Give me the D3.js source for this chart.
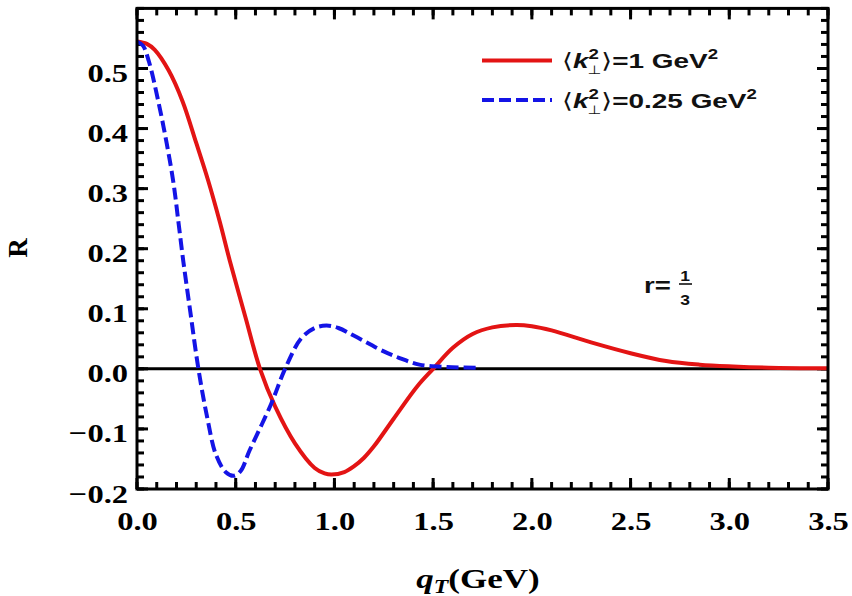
<!DOCTYPE html>
<html>
<head>
<meta charset="utf-8">
<script src="https://cdn.jsdelivr.net/npm/d3@7/dist/d3.min.js"></script>
<style>
  html, body { margin: 0; padding: 0; background: #fff; }
  svg { display: block; }
</style>
</head>
<body>
<svg id="chart" width="852" height="596"></svg>
<script>
// R(q_T) for two widths of the transverse-momentum distribution
const qRed = [0.00, 0.05, 0.09, 0.16, 0.23, 0.30, 0.36, 0.42, 0.47, 0.55, 0.623, 0.70, 0.80, 0.90, 0.95, 0.985, 1.05, 1.10, 1.15, 1.20, 1.30, 1.42, 1.50, 1.60, 1.70, 1.80, 1.92, 2.00, 2.10, 2.30, 2.50, 2.68, 2.85, 3.02, 3.20, 3.50];
const rRed = [0.545, 0.541, 0.531, 0.497, 0.446, 0.376, 0.314, 0.244, 0.180, 0.085, 0.000, -0.063, -0.124, -0.165, -0.174, -0.176, -0.172, -0.162, -0.148, -0.129, -0.083, -0.029, 0.000, 0.035, 0.058, 0.069, 0.073, 0.071, 0.064, 0.044, 0.026, 0.013, 0.007, 0.004, 0.002, 0.001];

const qBlue = [0.00, 0.03, 0.06, 0.11, 0.15, 0.185, 0.21, 0.235, 0.27, 0.311, 0.355, 0.40, 0.45, 0.49, 0.525, 0.57, 0.68, 0.75, 0.83, 0.90, 0.96, 1.02, 1.10, 1.25, 1.33, 1.43, 1.57, 1.74];
const rBlue = [0.545, 0.538, 0.512, 0.442, 0.376, 0.309, 0.244, 0.178, 0.095, 0.000, -0.080, -0.143, -0.172, -0.178, -0.170, -0.136, -0.058, 0.000, 0.050, 0.068, 0.072, 0.068, 0.055, 0.029, 0.018, 0.007, 0.003, 0.002];

const xTicks = [0.0, 0.5, 1.0, 1.5, 2.0, 2.5, 3.0, 3.5];
const yTicks = [-0.2, -0.1, 0.0, 0.1, 0.2, 0.3, 0.4, 0.5];
const xMinor = d3.range(0, 3.5001, 0.1);
const yMinor = d3.range(-0.2, 0.6001, 0.02);

const legendLabels = ["1", "0.25"];

const RED = "#e31414";
const BLUE = "#1414e6";
const SX = 1.25;   // horizontal stretch of the serif lettering
const SXL = 1.33;  // horizontal stretch of the legend lettering

const svg = d3.select("#chart");
const L = 137, R = 828, T = 8.4, B = 489;
const x = d3.scaleLinear().domain([0, 3.5]).range([L, R]);
const y = d3.scaleLinear().domain([-0.2, 0.6]).range([B, T]);

const fmt = v => (v < 0 ? "\u2212" : "") + Math.abs(v).toFixed(1);

// inward ticks on all four sides
const tickG = svg.append("g").attr("stroke", "#000").attr("stroke-width", 3);
function xTickMarks(values, len) {
  tickG.selectAll(null).data(values).join("line")
    .attr("x1", d => x(d)).attr("x2", d => x(d)).attr("y1", B).attr("y2", B - len);
  tickG.selectAll(null).data(values).join("line")
    .attr("x1", d => x(d)).attr("x2", d => x(d)).attr("y1", T).attr("y2", T + len);
}
function yTickMarks(values, len) {
  tickG.selectAll(null).data(values).join("line")
    .attr("y1", d => y(d)).attr("y2", d => y(d)).attr("x1", L).attr("x2", L + len);
  tickG.selectAll(null).data(values).join("line")
    .attr("y1", d => y(d)).attr("y2", d => y(d)).attr("x1", R).attr("x2", R - len);
}
xTickMarks(xMinor, 7);
xTickMarks(xTicks, 11);
yTickMarks(yMinor, 7);
yTickMarks(yTicks, 11);

// tick labels
const serif = "'Liberation Serif', 'Times New Roman', serif";
const xl = svg.append("g").attr("transform", `translate(0,${B})`)
  .call(d3.axisBottom(x).tickValues(xTicks).tickSize(0).tickFormat(fmt));
xl.select(".domain").remove();
xl.selectAll("text")
  .attr("y", 0).attr("dy", null)
  .attr("transform", `translate(0,41) scale(${SX},1)`)
  .attr("font-family", serif).attr("font-weight", "bold").attr("font-size", 26)
  .attr("fill", "#000");

const yl = svg.append("g").attr("transform", `translate(${L},0)`)
  .call(d3.axisLeft(y).tickValues(yTicks).tickSize(0).tickFormat(fmt));
yl.select(".domain").remove();
yl.selectAll("text")
  .attr("x", 0).attr("dy", null).attr("y", 0)
  .attr("transform", `translate(-9,13) scale(${SX},1)`)
  .attr("font-family", serif).attr("font-weight", "bold").attr("font-size", 26)
  .attr("fill", "#000");

// zero line
svg.append("line")
  .attr("x1", L).attr("x2", R).attr("y1", y(0)).attr("y2", y(0))
  .attr("stroke", "#000").attr("stroke-width", 3);

// curves
const line = d3.line().x(d => x(d[0])).y(d => y(d[1])).curve(d3.curveCatmullRom.alpha(0.5));
svg.append("clipPath").attr("id", "plot-clip")
  .append("rect").attr("x", L).attr("y", T).attr("width", R - L).attr("height", B - T);

svg.append("path")
  .datum(qRed.map((q, i) => [q, rRed[i]]))
  .attr("d", line).attr("fill", "none")
  .attr("stroke", RED).attr("stroke-width", 4)
  .attr("clip-path", "url(#plot-clip)");

svg.append("path")
  .datum(qBlue.map((q, i) => [q, rBlue[i]]))
  .attr("d", line).attr("fill", "none")
  .attr("stroke", BLUE).attr("stroke-width", 4)
  .attr("stroke-dasharray", "12,5")
  .attr("clip-path", "url(#plot-clip)");

// frame
svg.append("rect")
  .attr("x", L).attr("y", T).attr("width", R - L).attr("height", B - T)
  .attr("fill", "none").attr("stroke", "#000").attr("stroke-width", 3);

// axis titles
svg.append("text")
  .attr("transform", "translate(27,248) rotate(-90)")
  .attr("text-anchor", "middle")
  .attr("font-family", serif).attr("font-weight", "bold").attr("font-size", 27)
  .text("R");

const xt = svg.append("text")
  .attr("transform", `translate(478,588) scale(${SX},1)`)
  .attr("text-anchor", "middle")
  .attr("font-family", serif).attr("font-weight", "bold").attr("font-size", 28);
xt.append("tspan").attr("font-style", "italic").text("q");
xt.append("tspan").attr("font-style", "italic").attr("font-size", 19).attr("dy", 5).text("T");
xt.append("tspan").attr("dy", -5).text("(GeV)");

// legend
const sans = "'Liberation Sans', Arial, sans-serif";
const dejavu = "'DejaVu Sans', sans-serif";
const legend = svg.append("g");
[
  { label: legendLabels[0], color: RED, dash: null, ly: 60.5 },
  { label: legendLabels[1], color: BLUE, dash: "12,5", ly: 100 }
].forEach(item => {
  legend.append("line")
    .attr("x1", 482).attr("x2", 552).attr("y1", item.ly).attr("y2", item.ly)
    .attr("stroke", item.color).attr("stroke-width", 4)
    .attr("stroke-dasharray", item.dash);
  const t = legend.append("text")
    .attr("transform", `translate(562,${item.ly + 7.5}) scale(${SXL},1)`)
    .attr("font-family", sans).attr("font-weight", "bold").attr("font-size", 21)
    .attr("fill", "#111");
  t.append("tspan").attr("font-family", dejavu).attr("font-weight", "normal").text("\u27E8");
  t.append("tspan").attr("font-style", "italic").text("k");
  t.append("tspan").attr("font-size", 14).attr("dy", -9).text("2");
  t.append("tspan").attr("font-size", 12).attr("dx", -8.5).attr("dy", 15)
    .attr("font-family", dejavu).attr("font-weight", "normal").text("\u22A5");
  t.append("tspan").attr("dy", -6).attr("font-family", dejavu).attr("font-weight", "normal").text("\u27E9");
  t.append("tspan").text("=" + item.label + " GeV");
  t.append("tspan").attr("font-size", 14).attr("dy", -9).text("2");
});

// parameter annotation r = 1/3
const ann = svg.append("g").attr("font-family", sans).attr("font-weight", "bold").attr("fill", "#111");
ann.append("text")
  .attr("transform", `translate(644,293) scale(${SX},1)`)
  .attr("font-size", 22).text("r=");
ann.append("text")
  .attr("transform", `translate(685,281) scale(${SX},1)`)
  .attr("text-anchor", "middle").attr("font-size", 14).text("1");
ann.append("line")
  .attr("x1", 679).attr("x2", 692).attr("y1", 284).attr("y2", 284)
  .attr("stroke", "#111").attr("stroke-width", 1.6);
ann.append("text")
  .attr("transform", `translate(685,305) scale(${SX},1)`)
  .attr("text-anchor", "middle").attr("font-size", 14).text("3");
</script>
</body>
</html>
